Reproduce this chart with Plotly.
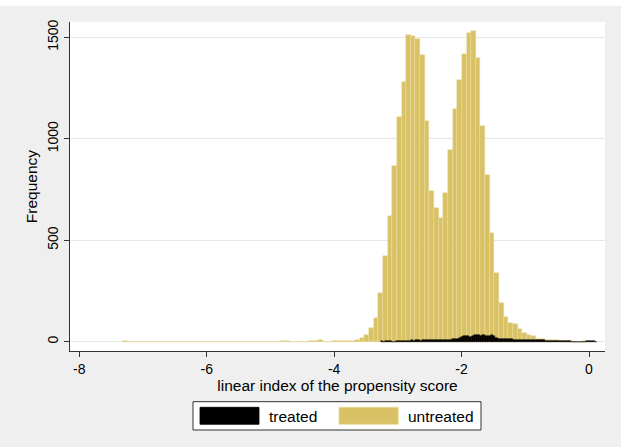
import plotly.graph_objects as go

# Histogram of the linear index of the propensity score, by treatment status
untreated_start = -7.31
untreated_width = 0.0728
untreated_counts = [
    3, 0, 0, 0, 0, 0, 0, 0, 0, 0,
    0, 0, 0, 0, 0, 0, 0, 0, 0, 0,
    0, 0, 0, 0, 0, 0, 0, 0, 0, 0,
    0, 0, 0, 0, 3, 3, 0, 0, 0, 0,
    3, 3, 6, 0, 0, 3, 4, 4, 3, 5,
    8, 17, 35, 66, 115, 241, 422, 619, 867, 1105,
    1278, 1514, 1508, 1491, 1412, 1089, 744, 660, 611, 731,
    944, 1146, 1289, 1416, 1519, 1530, 1399, 1064, 821, 534,
    337, 190, 123, 92, 87, 62, 41, 35, 26, 15,
    12, 10, 7, 6, 5, 5, 4, 0, 0, 3,
]

treated_start = -3.27
treated_width = 0.034
treated_counts = [
    3, 0, 3, 3, 2, 0, 0, 3, 4, 3,
    4, 5, 4, 5, 6, 5, 6, 7, 5, 6,
    7, 8, 6, 7, 8, 7, 8, 9, 8, 9,
    8, 10, 9, 11, 12, 15, 20, 21, 26, 28,
    27, 25, 29, 31, 33, 32, 30, 31, 27, 26,
    29, 33, 30, 17, 15, 14, 13, 13, 12, 11,
    12, 10, 10, 9, 10, 9, 8, 9, 8, 8,
    7, 8, 7, 7, 6, 6, 5, 5, 5, 4,
    4, 3, 3, 2, 3, 2, 3, 3, 0, 0,
    0, 0, 0, 0, 0, 2, 3, 3, 2, 0,
]

x_ticks = [-8, -6, -4, -2, 0]
y_ticks = [0, 500, 1000, 1500]
series_names = ["treated", "untreated"]
x_title = "linear index of the propensity score"
y_title = "Frequency"

KHAKI = "#D9C266"
KHAKI_EDGE = "#E8DA9C"
BLACK = "#000000"
FONT = "Arial, Liberation Sans, sans-serif"
TICK_SIZE = 14
TEXT_SIZE = 15.5


def centers(start, width, n):
    return [start + width * (i + 0.5) for i in range(n)]


fig = go.Figure()
fig.add_trace(go.Bar(
    x=centers(untreated_start, untreated_width, len(untreated_counts)),
    y=untreated_counts,
    width=untreated_width,
    marker=dict(color=KHAKI, line=dict(color=KHAKI_EDGE, width=0.5)),
    name=series_names[1],
    showlegend=False,
))
fig.add_trace(go.Bar(
    x=centers(treated_start, treated_width, len(treated_counts)),
    y=treated_counts,
    width=treated_width,
    marker=dict(color=BLACK, line=dict(color=BLACK, width=0.5)),
    name=series_names[0],
    showlegend=False,
))

W, H = 621, 447
ML, MR, MT, MB = 70, 16, 22, 96
PW, PH = W - ML - MR, H - MT - MB


def px(x):
    return (x - ML) / PW


def py(y):
    return (H - MB - y) / PH


shapes = [
    # thin white band along the top edge of the page
    dict(type="rect", xref="paper", yref="paper", x0=px(0), x1=px(W),
         y0=py(6), y1=py(0), fillcolor="white", line=dict(width=0), layer="below"),
    # legend frame and keys
    dict(type="rect", xref="paper", yref="paper", x0=px(193), x1=px(481),
         y0=py(430), y1=py(401.7), fillcolor="white",
         line=dict(color="#333333", width=1)),
    dict(type="rect", xref="paper", yref="paper", x0=px(200), x1=px(259),
         y0=py(424.3), y1=py(407.3), fillcolor=BLACK,
         line=dict(color=BLACK, width=0.8)),
    dict(type="rect", xref="paper", yref="paper", x0=px(339), x1=px(398.3),
         y0=py(424.3), y1=py(407.3), fillcolor=KHAKI,
         line=dict(color=KHAKI_EDGE, width=0.8)),
]

annotations = [
    dict(xref="paper", yref="paper", x=px(266.5), y=py(416.5), text=series_names[0],
         showarrow=False, xanchor="left", yanchor="middle",
         font=dict(family=FONT, size=TEXT_SIZE, color="black")),
    dict(xref="paper", yref="paper", x=px(405.5), y=py(416.5), text=series_names[1],
         showarrow=False, xanchor="left", yanchor="middle",
         font=dict(family=FONT, size=TEXT_SIZE, color="black")),
]

fig.update_layout(
    width=W, height=H,
    margin=dict(l=ML, r=MR, t=MT, b=MB, pad=0),
    paper_bgcolor="#EFEFEF",
    plot_bgcolor="white",
    barmode="overlay",
    bargap=0,
    font=dict(family=FONT, size=TICK_SIZE, color="black"),
    shapes=shapes,
    annotations=annotations,
    showlegend=False,
    xaxis=dict(
        range=[-8.146, 0.251],
        tickvals=x_ticks,
        ticktext=[str(v) for v in x_ticks],
        ticks="outside", ticklen=5, tickwidth=1, tickcolor="#333333",
        showline=True, linecolor="#333333", linewidth=1,
        showgrid=False, zeroline=False,
        tickfont=dict(family=FONT, size=TICK_SIZE, color="black"),
        title=dict(text=x_title, standoff=1,
                   font=dict(family=FONT, size=TEXT_SIZE, color="black")),
    ),
    yaxis=dict(
        range=[-45.8, 1575.6],
        tickvals=y_ticks,
        ticktext=[str(v) for v in y_ticks],
        tickangle=-90,
        ticks="outside", ticklen=5, tickwidth=1, tickcolor="#333333",
        showline=True, linecolor="#333333", linewidth=1,
        showgrid=True, gridcolor="#E6E6E6", gridwidth=1.3,
        zeroline=False,
        tickfont=dict(family=FONT, size=TICK_SIZE, color="black"),
        title=dict(text=y_title, standoff=3,
                   font=dict(family=FONT, size=TEXT_SIZE, color="black")),
    ),
)

fig.write_html("out.html")
